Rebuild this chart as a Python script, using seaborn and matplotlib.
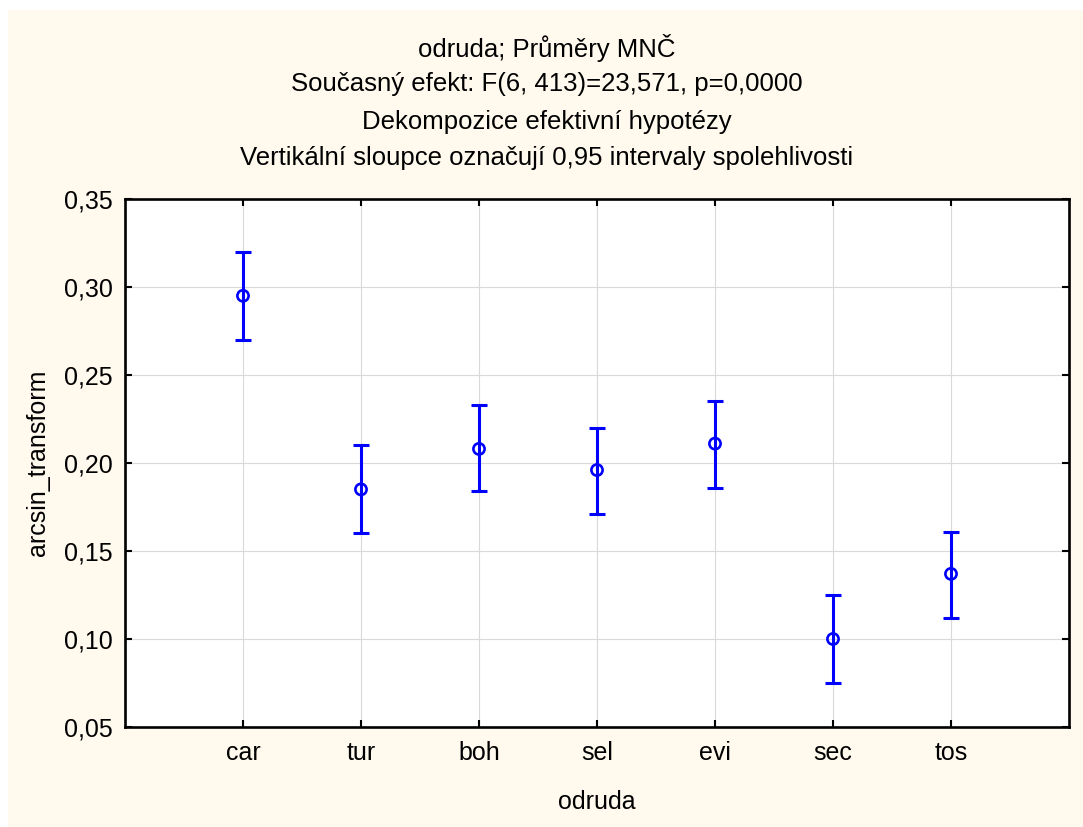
import matplotlib
matplotlib.use("Agg")
import matplotlib.pyplot as plt
from matplotlib.patches import Rectangle
from matplotlib.ticker import FuncFormatter, MultipleLocator
import seaborn as sns
import pandas as pd

# ---- data ----
categories = ["car", "tur", "boh", "sel", "evi", "sec", "tos"]
means = [0.295, 0.185, 0.208, 0.196, 0.211, 0.100, 0.137]
lower = [0.270, 0.160, 0.184, 0.171, 0.186, 0.075, 0.112]
upper = [0.320, 0.210, 0.233, 0.220, 0.235, 0.125, 0.161]
title_lines = [
    "odruda; Průměry MNČ",
    "Současný efekt: F(6, 413)=23,571, p=0,0000",
    "Dekompozice efektivní hypotézy",
    "Vertikální sloupce označují 0,95 intervaly spolehlivosti",
]
xlabel = "odruda"
ylabel = "arcsin_transform"

df = pd.DataFrame({"odruda": categories, "mean": means, "lo": lower, "hi": upper})
df["pos"] = range(len(df))

sns.set_theme(style="white")
plt.rcParams["font.family"] = ["Liberation Sans", "DejaVu Sans"]

W, H = 1083, 827
fig = plt.figure(figsize=(W / 100, H / 100), dpi=100, facecolor="white")
cream = "#FFF9EE"
fig.patches.append(Rectangle((8 / W, 0), 1 - 8 / W, (H - 10) / H,
                             transform=fig.transFigure, facecolor=cream,
                             edgecolor="none", zorder=-10))

ax = fig.add_axes([125 / W, (H - 727) / H, (1069 - 125) / W, (727 - 199) / H])
ax.set_facecolor("white")

blue = "#0000FF"
ax.errorbar(df["pos"], df["mean"],
            yerr=[df["mean"] - df["lo"], df["hi"] - df["mean"]],
            fmt="none", ecolor=blue, elinewidth=2.2, capsize=5.5, capthick=2.2,
            zorder=3)
sns.scatterplot(data=df, x="pos", y="mean", ax=ax, marker="o", s=65,
                facecolor="none", edgecolor=blue, linewidth=1.9, zorder=4,
                legend=False)

ax.set_xlim(-1, len(categories))
ax.set_ylim(0.05, 0.35)
ax.set_xticks(range(len(categories)))
ax.set_xticklabels(categories)
ax.yaxis.set_major_locator(MultipleLocator(0.05))
ax.yaxis.set_major_formatter(FuncFormatter(lambda v, p: f"{v:.2f}".replace(".", ",")))

ax.grid(True, color="#D9D9D9", linewidth=0.8)
ax.set_axisbelow(True)
for s in ax.spines.values():
    s.set_visible(True)
    s.set_color("black")
    s.set_linewidth(1.9)
fs = 18
ax.tick_params(axis="both", which="major", direction="in", length=5, width=1.5,
               color="black", labelsize=fs, top=True, right=True,
               bottom=True, left=True, labelcolor="black")
ax.tick_params(axis="x", pad=10)
ax.tick_params(axis="y", pad=9)

ax.set_xlabel(xlabel, fontsize=fs, labelpad=18, color="black")
ax.set_ylabel(ylabel, fontsize=fs, labelpad=10, color="black")

for yy, t in zip([48, 84, 122, 158], title_lines):
    fig.text(547 / W, 1 - yy / H, t, ha="center", va="center", fontsize=18.5,
             color="black")

fig.savefig("out.png", dpi=100, facecolor="white")
